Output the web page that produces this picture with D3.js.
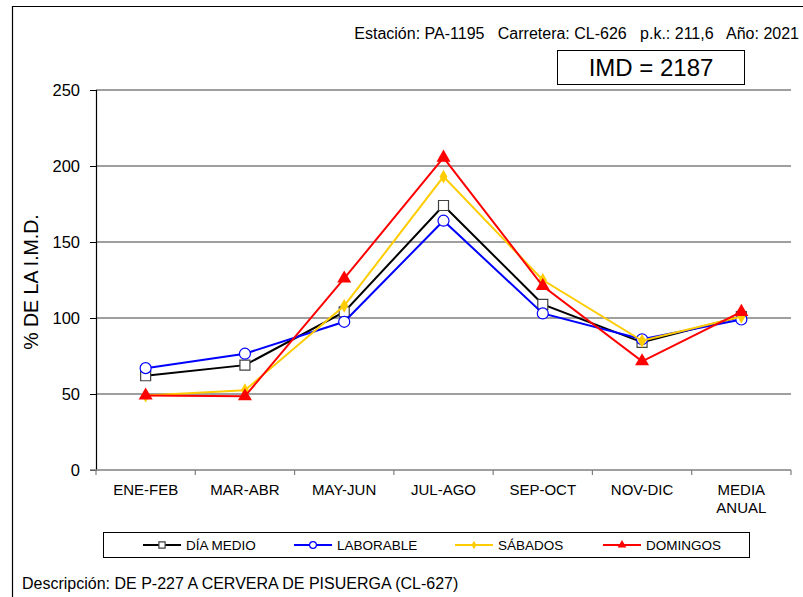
<!DOCTYPE html>
<html>
<head>
<meta charset="utf-8">
<script src="https://cdn.jsdelivr.net/npm/d3@7"></script>
<style>
  html, body { margin: 0; padding: 0; background: #fff; }
  svg { display: block; font-family: "Liberation Sans", Arial, sans-serif; }
</style>
</head>
<body>
<svg id="chart" width="803" height="597"></svg>
<script>
// Periods on the x axis
const categories = ["ENE-FEB", "MAR-ABR", "MAY-JUN", "JUL-AGO", "SEP-OCT", "NOV-DIC", "MEDIA ANUAL"];

// % of the annual mean daily traffic, per day type
const diaMedio   = [62, 69, 104, 174, 109, 84, 101];
const laborable  = [67, 76.5, 97.5, 164, 103, 86, 99];
const sabados    = [49, 52.5, 108, 193, 125, 85, 101];
const domingos   = [49, 48.5, 126, 205.5, 121, 71.5, 104];

const yTicks = [0, 50, 100, 150, 200, 250];

const seriesNames  = ["DÍA MEDIO", "LABORABLE", "SÁBADOS", "DOMINGOS"];
const seriesValues = [diaMedio, laborable, sabados, domingos];
const seriesColors = ["#000000", "#0000ff", "#ffcc00", "#ff0000"];
const seriesMarks  = ["square", "circle", "diamond", "triangle"];

const headerText = "Estación: PA-1195   Carretera: CL-626   p.k.: 211,6   Año: 2021";
const imdText = "IMD = 2187";
const descText = "Descripción: DE P-227 A CERVERA DE PISUERGA (CL-627)";

const svg = d3.select("#chart");
const plot = { left: 96, right: 791, top: 90, bottom: 470 };

// outer frame
svg.append("path")
  .attr("d", "M12.5,600 V6.5 H806")
  .attr("fill", "none").attr("stroke", "#000").attr("stroke-width", 1.2);

const x = d3.scaleBand().domain(categories).range([plot.left, plot.right]);
const y = d3.scaleLinear().domain([0, 250]).range([plot.bottom, plot.top]);

// horizontal grid lines
svg.append("g").selectAll("line").data(yTicks.filter(d => d > 0)).join("line")
  .attr("x1", plot.left).attr("x2", plot.right)
  .attr("y1", d => y(d)).attr("y2", d => y(d))
  .attr("stroke", "#7f7f7f").attr("stroke-width", 1.5);

// y axis
const yAxis = svg.append("g").attr("transform", `translate(${plot.left},0)`)
  .call(d3.axisLeft(y).tickValues(yTicks).tickSize(6).tickPadding(10));
yAxis.select(".domain").attr("stroke", "#000").attr("stroke-width", 1.2);
yAxis.selectAll(".tick line").attr("stroke", "#000");
yAxis.selectAll("text").attr("font-size", 16.5).attr("fill", "#000")
  .attr("font-family", "Liberation Sans, Arial, sans-serif");

// x axis with tick marks on category boundaries
const xAxisG = svg.append("g");
xAxisG.append("line")
  .attr("x1", plot.left - 6).attr("x2", plot.right)
  .attr("y1", plot.bottom).attr("y2", plot.bottom)
  .attr("stroke", "#7f7f7f").attr("stroke-width", 1.5);
const bounds = categories.map(c => x(c)).concat([x(categories[categories.length - 1]) + x.bandwidth()]);
xAxisG.selectAll("line.tk").data(bounds).join("line").attr("class", "tk")
  .attr("x1", d => d).attr("x2", d => d)
  .attr("y1", plot.bottom).attr("y2", plot.bottom + 5)
  .attr("stroke", "#7f7f7f").attr("stroke-width", 1.2);
xAxisG.selectAll("text").data(categories).join("text")
  .attr("x", d => x(d) + x.bandwidth() / 2)
  .attr("text-anchor", "middle").attr("font-size", 15).attr("fill", "#000")
  .each(function(d) {
    const parts = d === "MEDIA ANUAL" ? ["MEDIA", "ANUAL"] : [d];
    d3.select(this).selectAll("tspan").data(parts).join("tspan")
      .attr("x", x(d) + x.bandwidth() / 2)
      .attr("y", (p, i) => 495 + i * 18)
      .text(p => p);
  });

// y axis title
svg.append("text")
  .attr("transform", "translate(38,282) rotate(-90)")
  .attr("text-anchor", "middle").attr("font-size", 19.5).attr("fill", "#000")
  .text("% DE LA I.M.D.");

// marker shapes
const symType = { square: d3.symbolSquare, circle: d3.symbolCircle, diamond: d3.symbolDiamond, triangle: d3.symbolTriangle };
const symSize = { square: 100, circle: 95, diamond: 55, triangle: 85 };
function drawMarker(g, kind, color, cx, cy, scale = 1) {
  const p = g.append("path")
    .attr("d", d3.symbol().type(symType[kind]).size(symSize[kind] * scale * scale)())
    .attr("transform", `translate(${cx},${cy})`);
  if (kind === "square" || kind === "circle") {
    p.attr("fill", "#fff").attr("stroke", kind === "square" ? "#404040" : color).attr("stroke-width", 1.2);
  } else {
    p.attr("fill", color).attr("stroke", "none");
  }
}

// series lines and markers
const line = d3.line().x((d, i) => x(categories[i]) + x.bandwidth() / 2).y(d => y(d));
seriesValues.forEach((vals, s) => {
  const g = svg.append("g");
  g.append("path").datum(vals).attr("d", line)
    .attr("fill", "none").attr("stroke", seriesColors[s]).attr("stroke-width", 2);
  vals.forEach((v, i) => drawMarker(g, seriesMarks[s], seriesColors[s], x(categories[i]) + x.bandwidth() / 2, y(v)));
});

// header
svg.append("text").attr("x", 799).attr("y", 39).attr("text-anchor", "end")
  .attr("font-size", 16).attr("fill", "#000").attr("xml:space", "preserve")
  .text(headerText);

// IMD box
svg.append("rect").attr("x", 557.5).attr("y", 50.5).attr("width", 187).attr("height", 34)
  .attr("fill", "#fff").attr("stroke", "#000").attr("stroke-width", 1);
svg.append("text").attr("x", 651).attr("y", 76).attr("text-anchor", "middle")
  .attr("font-size", 24).attr("fill", "#000").text(imdText);

// legend
const legend = svg.append("g");
legend.append("rect").attr("x", 103.5).attr("y", 532.5).attr("width", 646).attr("height", 25)
  .attr("fill", "#fff").attr("stroke", "#000").attr("stroke-width", 1);
const legendX = [143, 294, 455, 603];
seriesNames.forEach((name, s) => {
  const lx = legendX[s];
  legend.append("line").attr("x1", lx).attr("x2", lx + 38).attr("y1", 545).attr("y2", 545)
    .attr("stroke", seriesColors[s]).attr("stroke-width", 2);
  drawMarker(legend, seriesMarks[s], seriesColors[s], lx + 19, 545, 0.62);
  legend.append("text").attr("x", lx + 43).attr("y", 550)
    .attr("font-size", 13.5).attr("fill", "#000").text(name);
});

// description
svg.append("text").attr("x", 22).attr("y", 589).attr("font-size", 16).attr("fill", "#000")
  .text(descText);
</script>
</body>
</html>
